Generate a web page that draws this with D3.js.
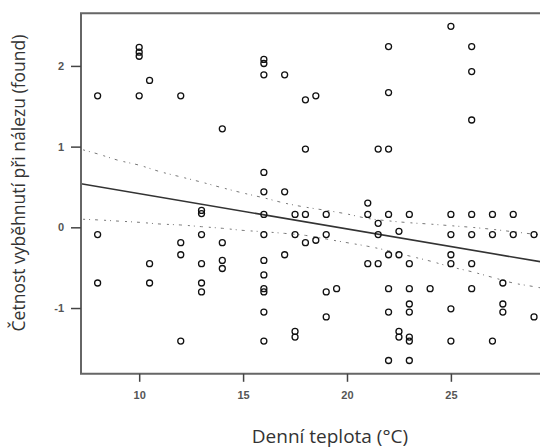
<!DOCTYPE html>
<html>
<head>
<meta charset="utf-8">
<script src="https://cdn.jsdelivr.net/npm/d3@7"></script>
<style>
    body { margin: 0; background: white; }
</style>
</head>
<body>
<svg id="chart" width="540" height="448"></svg>
<script>
// points grouped by temperature
let temps = [8, 10, 10.5, 12, 13, 14, 16, 17, 17.5, 18, 18.5, 19, 19.5, 21, 21.5, 22, 22.5, 23, 24, 25, 26, 27, 27.5, 28, 29];
let found = [
    [1.63, -0.09, -0.69],
    [2.23, 2.17, 2.12, 1.63],
    [1.82, -0.45, -0.69],
    [1.63, -0.19, -0.34, -1.41],
    [0.21, 0.17, -0.09, -0.45, -0.69, -0.80],
    [1.22, -0.19, -0.41, -0.51],
    [2.08, 2.03, 1.89, 0.68, 0.44, 0.16, -0.09, -0.41, -0.59, -0.76, -0.80, -1.05, -1.41],
    [1.89, 0.44, -0.34],
    [0.16, -0.09, -1.29, -1.36],
    [1.58, 0.97, 0.16, -0.19],
    [1.63, -0.16],
    [0.16, -0.09, -0.80, -1.11],
    [-0.76],
    [0.30, 0.16, -0.45],
    [0.97, 0.05, -0.09, -0.45],
    [2.24, 1.67, 0.97, 0.16, -0.34, -0.76, -1.05, -1.65],
    [-0.05, -0.34, -1.29, -1.36],
    [0.16, -0.45, -0.76, -0.95, -1.05, -1.36, -1.41, -1.65],
    [-0.76],
    [2.49, 0.16, -0.09, -0.34, -0.45, -1.01, -1.41],
    [2.24, 1.93, 1.33, 0.16, -0.09, -0.45, -0.76],
    [0.16, -0.09, -1.41],
    [-0.69, -0.95, -1.05],
    [0.16, -0.09],
    [-0.09, -1.11]
];

// regression line and confidence band
let trendX = [7.2, 30.3];
let trendY = [0.54, -0.47];
let bandX = [7.3, 8, 9, 10, 11, 12, 13, 14, 15, 16, 17, 18, 19, 20, 21, 22, 23, 24, 25, 26, 27, 28, 29, 30.3];
let upperY = [0.96, 0.91, 0.83, 0.77, 0.69, 0.625, 0.56, 0.49, 0.425, 0.365, 0.30, 0.25, 0.21, 0.165, 0.11, 0.08, 0.057, 0.04, 0.02, 0.0, -0.025, -0.055, -0.085, -0.12];
let lowerY = [0.10, 0.092, 0.077, 0.062, 0.041, 0.029, 0.008, -0.012, -0.038, -0.055, -0.075, -0.10, -0.145, -0.19, -0.235, -0.29, -0.355, -0.418, -0.49, -0.55, -0.62, -0.69, -0.735, -0.80];

let xTicks = [10, 15, 20, 25];
let yTicks = [-1, 0, 1, 2];

var svg = d3.select("#chart"),
    plotLeft = 81,
    plotTop = 13.3,
    plotBottom = 373.8,
    plotRight = 560;

var xScale = d3.scaleLinear().domain([7.2, 30.25]).range([plotLeft, plotRight]),
    yScale = d3.scaleLinear().domain([-1.815, 2.652]).range([plotBottom, plotTop]);

svg.append("clipPath")
    .attr("id", "plot-clip")
    .append("rect")
    .attr("x", plotLeft)
    .attr("y", plotTop)
    .attr("width", plotRight - plotLeft)
    .attr("height", plotBottom - plotTop);

var plot = svg.append("g").attr("clip-path", "url(#plot-clip)");

// confidence band
var line = d3.line()
    .x(function (d) { return xScale(d[0]); })
    .y(function (d) { return yScale(d[1]); })
    .curve(d3.curveMonotoneX);

[upperY, lowerY].forEach(function (band) {
    plot.append("path")
        .datum(bandX.map(function (x, i) { return [x, band[i]]; }))
        .attr("d", line)
        .style("fill", "none")
        .style("stroke", "#777")
        .style("stroke-width", 1)
        .style("stroke-dasharray", "2,4,1,5,3,6");
});

// regression line
plot.append("path")
    .datum(trendX.map(function (x, i) { return [x, trendY[i]]; }))
    .attr("d", d3.line()
        .x(function (d) { return xScale(d[0]); })
        .y(function (d) { return yScale(d[1]); }))
    .style("fill", "none")
    .style("stroke", "#333")
    .style("stroke-width", 1.6);

// points
let points = [];
temps.forEach(function (t, i) {
    found[i].forEach(function (v) {
        points.push([t, v]);
    });
});

plot.append("g")
    .selectAll("circle")
    .data(points)
    .enter()
    .append("circle")
    .attr("cx", function (d) { return xScale(d[0]); })
    .attr("cy", function (d) { return yScale(d[1]); })
    .attr("r", 3)
    .style("fill", "none")
    .style("stroke", "#111")
    .style("stroke-width", 1.3);

// frame: top, left, bottom
svg.append("path")
    .attr("d", "M" + 540 + "," + plotTop + "H" + plotLeft + "V" + plotBottom + "H" + 540)
    .style("fill", "none")
    .style("stroke", "#666")
    .style("stroke-width", 2);

// axes
var xAxis = svg.append("g")
    .attr("transform", "translate(0," + plotBottom + ")")
    .call(d3.axisBottom(xScale).tickValues(xTicks).tickSize(8).tickPadding(9));

var yAxis = svg.append("g")
    .attr("transform", "translate(" + plotLeft + ",0)")
    .call(d3.axisLeft(yScale).tickValues(yTicks).tickSize(10).tickPadding(7)
        .tickFormat(function (d) { return d < 0 ? "-" + Math.abs(d) : d; }));

[xAxis, yAxis].forEach(function (ax) {
    ax.select(".domain").remove();
    ax.selectAll(".tick line").style("stroke", "#444").style("stroke-width", 1.5);
    ax.selectAll(".tick text")
        .style("font-family", "Liberation Sans")
        .style("font-weight", "bold")
        .style("font-size", "11px")
        .style("fill", "#555");
});

// X label
svg.append("text")
    .attr("x", 330)
    .attr("y", 443)
    .attr("text-anchor", "middle")
    .style("font-family", "Open Sans")
    .style("font-size", "19px")
    .style("fill", "#333")
    .text("Denní teplota (°C)");

// Y label
svg.append("text")
    .attr("text-anchor", "middle")
    .attr("transform", "translate(25,183)rotate(-90)")
    .style("font-family", "Open Sans")
    .style("font-size", "17.5px")
    .style("fill", "#333")
    .text("Četnost vyběhnutí při nálezu (found)");
</script>
</body>
</html>
